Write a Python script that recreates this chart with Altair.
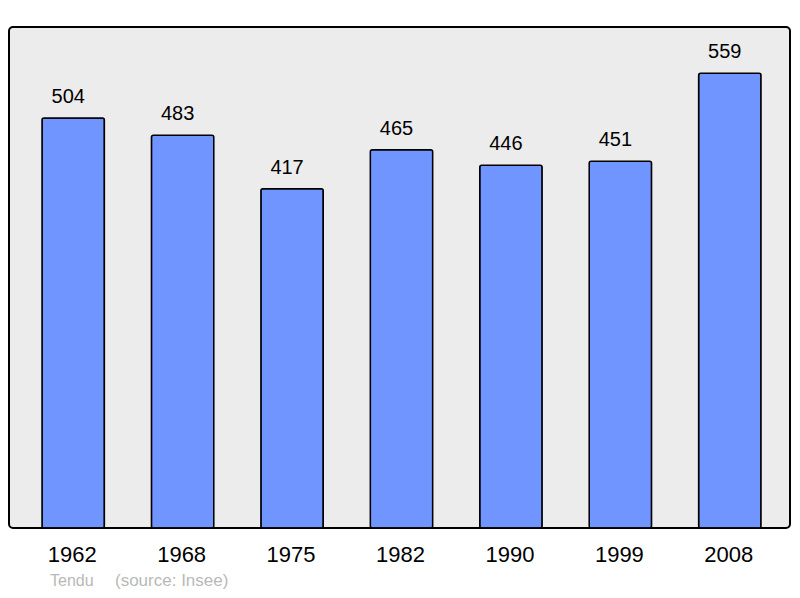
import altair as alt
import pandas as pd

years = ["1962", "1968", "1975", "1982", "1990", "1999", "2008"]
population = [504, 483, 417, 465, 446, 451, 559]
footer_left = ["Tendu"]
footer_right = ["(source: Insee)"]

df = pd.DataFrame({"year": years, "pop": population})

FONT = "Liberation Sans"

x = alt.X("year:N", sort=years, title=None,
          scale=alt.Scale(paddingInner=0.43, paddingOuter=0, range=[33, 752]),
          axis=alt.Axis(labelAngle=0, ticks=False, domain=False,
                        labelFontSize=22, labelColor="#000000", labelFont=FONT,
                        labelPadding=16, labelOffset=-1))
y = alt.Y("pop:Q", title=None, scale=alt.Scale(domain=[0, 616], nice=False),
          axis=None)

base = alt.Chart(df)

bars = base.mark_bar(color="#7095ff", stroke="#000000", strokeWidth=1.5,
                     cornerRadius=2).encode(x=x, y=y)

labels = base.mark_text(dy=-21, dx=-5, baseline="middle", fontSize=20, font=FONT,
                        color="#000000").encode(x=x, y=y, text="pop:Q")

f1 = alt.Chart(pd.DataFrame({"t": footer_left})).mark_text(
    align="left", baseline="alphabetic", fontSize=16, font=FONT, color="#b8b8b8"
).encode(x=alt.value(41), y=alt.value(559), text="t:N")

f2 = alt.Chart(pd.DataFrame({"t": footer_right})).mark_text(
    align="left", baseline="alphabetic", fontSize=17, font=FONT, color="#b8b8b8"
).encode(x=alt.value(106), y=alt.value(559), text="t:N")

chart = alt.layer(bars, labels, f1, f2).properties(
    width=781, height=501,
    autosize=alt.AutoSizeParams(type="none"),
    padding={"left": 1, "top": 19, "right": 2, "bottom": 62},
    background="#ffffff",
).configure_view(
    fill="#ececec", stroke="#000000", strokeWidth=2, cornerRadius=4
)

chart.save("out.html", embed_options={"renderer": "svg", "actions": False})
